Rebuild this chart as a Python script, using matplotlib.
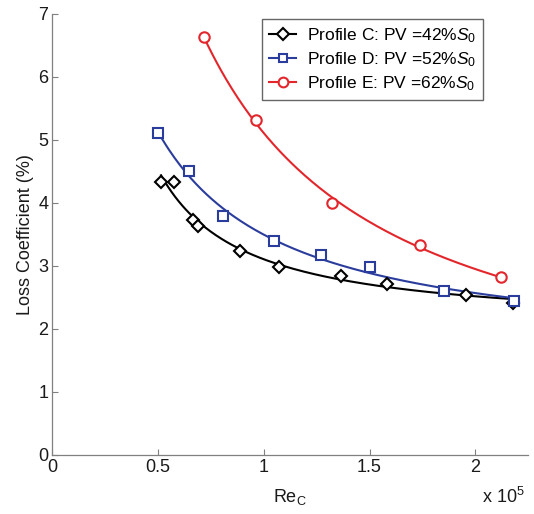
import numpy as np
import matplotlib
matplotlib.use("Agg")
import matplotlib.pyplot as plt
from matplotlib.lines import Line2D

plt.rcParams['font.family'] = ['Liberation Sans', 'DejaVu Sans']
plt.rcParams['mathtext.fontset'] = 'custom'
plt.rcParams['mathtext.it'] = 'Liberation Sans:italic'
plt.rcParams['mathtext.rm'] = 'Liberation Sans'

# Data (Re_C in units of 1e5, loss coefficient in %)
re_c = [0.514, 0.573, 0.667, 0.691, 0.888, 1.074, 1.366, 1.582, 1.956, 2.177]
loss_c = [4.34, 4.34, 3.73, 3.64, 3.24, 2.98, 2.84, 2.72, 2.54, 2.42]

re_d = [0.502, 0.644, 0.806, 1.046, 1.270, 1.504, 1.850, 2.182]
loss_d = [5.11, 4.50, 3.80, 3.40, 3.17, 2.99, 2.61, 2.44]

re_e = [0.715, 0.964, 1.322, 1.740, 2.122]
loss_e = [6.63, 5.32, 4.005, 3.33, 2.82]

labels = [r'Profile C: PV =42%$S_{\mathit{0}}$',
          r'Profile D: PV =52%$S_{\mathit{0}}$',
          r'Profile E: PV =62%$S_{\mathit{0}}$']
colors = ['#000000', '#2b3d9c', '#e3262c']
markers = ['D', 's', 'o']
msizes = [6.5, 6.5, 7.5]

x_ticks = [0, 0.5, 1, 1.5, 2]
x_ticklabels = ['0', '0.5', '1', '1.5', '2']
y_ticks = [0, 1, 2, 3, 4, 5, 6, 7]

fig = plt.figure(figsize=(5.34, 5.14), dpi=100)
ax = fig.add_axes([0.098, 0.1148, 0.891, 0.858])

handles = []
for xs, ys, c, m, ms, lab in zip([re_c, re_d, re_e], [loss_c, loss_d, loss_e],
                                 colors, markers, msizes, labels):
    xs = np.asarray(xs); ys = np.asarray(ys)
    # smooth trend fitted to the data (quadratic in 1/Re)
    p = np.polyfit(1.0 / xs, ys, 2)
    xf = np.linspace(xs.min(), xs.max(), 200)
    ax.plot(xf, np.polyval(p, 1.0 / xf), color=c, lw=1.5, zorder=2)
    ax.plot(xs, ys, linestyle='none', marker=m, ms=ms, mfc='white', mec=c,
            mew=1.5, zorder=3)
    handles.append(Line2D([], [], color=c, lw=1.5, marker=m, ms=ms - 0.5,
                          mfc='white', mec=c, mew=1.5, label=lab))

ax.set_xlim(0, 2.25)
ax.set_ylim(0, 7)
ax.set_xticks(x_ticks)
ax.set_xticklabels(x_ticklabels)
ax.set_yticks(y_ticks)
for s in ['top', 'right']:
    ax.spines[s].set_visible(False)
for s in ['left', 'bottom']:
    ax.spines[s].set_color('#808080')
    ax.spines[s].set_linewidth(0.9)
ax.tick_params(direction='in', length=4, color='#808080', labelsize=13,
               labelcolor='#1a1a1a', pad=3)

ax.set_ylabel('Loss Coefficient (%)', fontsize=13, color='#1a1a1a', labelpad=3)
ax.set_xlabel(r'Re$_\mathrm{C}$', fontsize=13, color='#1a1a1a', labelpad=8)
fig.text(0.903, 0.021, r'x 10$^5$', fontsize=13, color='#1a1a1a')

leg = ax.legend(handles=handles, loc='upper right', bbox_to_anchor=(0.905, 0.988),
                fontsize=12.5, frameon=True, fancybox=False, edgecolor='#404040',
                handlelength=1.6, handletextpad=0.6, borderpad=0.4,
                labelspacing=0.3, borderaxespad=0.0)
leg.get_frame().set_linewidth(1.0)

fig.savefig('out.png', dpi=100)
